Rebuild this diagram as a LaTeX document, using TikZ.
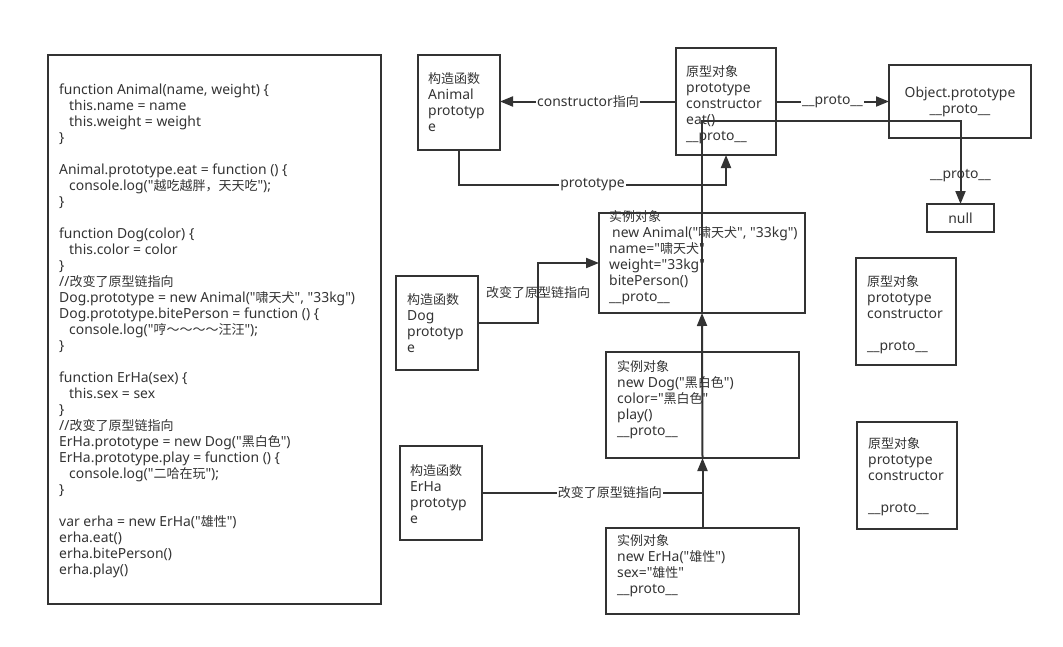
\documentclass[tikz,border=0pt]{standalone}
\usepackage{fontspec}
\setmainfont{Noto Sans}[Ligatures=TeXOff, Scale=1.07]
\newfontfamily\cjk{Noto Sans CJK SC}
\newcommand\zh[1]{{\cjk #1}}
\usetikzlibrary{arrows.meta}
\definecolor{ink}{HTML}{333333}
\begin{document}
\begin{tikzpicture}[x=1pt,y=-1pt,
  box/.style={draw=ink, line width=2pt, inner sep=0pt, outer sep=0pt, anchor=north west, text=ink, font=\fontsize{13}{16}\selectfont},
  txt/.style={anchor=north west, align=left, inner sep=0pt, text=ink, font=\fontsize{13}{16}\selectfont, execute at begin node={\rule{0pt}{12.5pt}}},
  conn/.style={draw=ink, line width=2pt},
  arr/.style={conn, -{Triangle[length=13pt,width=10pt]}},
  lbl/.style={text=ink, font=\fontsize{13}{16}\selectfont, inner sep=1pt},
  lblw/.style={lbl, fill=white}]
\useasboundingbox (0,0) rectangle (1063,646);

% boxes
\node[box, minimum width=333, minimum height=549] (code) at (48,55) {};
\node[box, minimum width=82, minimum height=95] (actA) at (418,55) {};
\node[box, minimum width=100, minimum height=107] (protoA) at (676,48) {};
\node[box, minimum width=142, minimum height=73, align=center] (objP) at (889,65) {Object.prototype\\\_\_proto\_\_};
\node[box, minimum width=67, minimum height=28] (null) at (927,204) {null};
\node[box, minimum width=82, minimum height=94] (dogC) at (396,276) {};
\node[box, minimum width=206, minimum height=100] (animI) at (599,213) {};
\node[box, minimum width=100, minimum height=107] (protoB) at (856,258) {};
\node[box, minimum width=100, minimum height=107] (protoC) at (857,422) {};
\node[box, minimum width=193, minimum height=106] (dogI) at (606,352) {};
\node[box, minimum width=82, minimum height=94] (erC) at (400,446) {};
\node[box, minimum width=193, minimum height=86] (erI) at (606,528) {};

% texts
\node[txt] (codeT) at (59,84) {function Animal(name, weight) \{\\
\hspace*{10pt}this.name = name\\
\hspace*{10pt}this.weight = weight\\
\}\\
\mbox{}\\
Animal.prototype.eat = function () \{\\
\hspace*{10pt}console.log("\zh{越吃越胖，天天吃}");\\
\}\\
\mbox{}\\
function Dog(color) \{\\
\hspace*{10pt}this.color = color\\
\}\\
//\zh{改变了原型链指向}\\
Dog.prototype = new Animal("\zh{啸天犬}", "33kg")\\
Dog.prototype.bitePerson = function () \{\\
\hspace*{10pt}console.log("\zh{哼～～～～汪汪}");\\
\}\\
\mbox{}\\
function ErHa(sex) \{\\
\hspace*{10pt}this.sex = sex\\
\}\\
//\zh{改变了原型链指向}\\
ErHa.prototype = new Dog("\zh{黑白色}")\\
ErHa.prototype.play = function () \{\\
\hspace*{10pt}console.log("\zh{二哈在玩}");\\
\}\\
\mbox{}\\
var erha = new ErHa("\zh{雄性}")\\
erha.eat()\\
erha.bitePerson()\\
erha.play()};

\node[txt] (actAT) at (428,72.5) {\zh{构造函数}\\Animal\\prototyp\\e};
\node[txt] (protoAT) at (686,65.5) {\zh{原型对象}\\prototype\\constructor\\eat()\\\_\_proto\_\_};
\node[txt] (dogCT) at (407,293.5) {\zh{构造函数}\\Dog\\prototyp\\e};
\node[txt] (animIT) at (609,210.5) {\zh{实例对象}\\\hspace*{3pt}new Animal("\zh{啸天犬}", "33kg")\\name="\zh{啸天犬}"\\weight="33kg"\\bitePerson()\\\_\_proto\_\_};
\node[txt] (protoBT) at (867,275.5) {\zh{原型对象}\\prototype\\constructor\\\mbox{}\\\_\_proto\_\_};
\node[txt] (protoCT) at (868,437.5) {\zh{原型对象}\\prototype\\constructor\\\mbox{}\\\_\_proto\_\_};
\node[txt] (dogIT) at (617,360.5) {\zh{实例对象}\\new Dog("\zh{黑白色}")\\color="\zh{黑白色}"\\play()\\\_\_proto\_\_};
\node[txt] (erCT) at (410,464.5) {\zh{构造函数}\\ErHa\\prototyp\\e};
\node[txt] (erIT) at (617,534.5) {\zh{实例对象}\\new ErHa("\zh{雄性}")\\sex="\zh{雄性}"\\\_\_proto\_\_};

% connectors
\draw[arr] (protoA.west) -- node[lblw]{constructor\zh{指向}} (protoA.west -| actA.east);
\draw[arr] (actA.south) |- node[lblw, pos=0.75]{prototype} (protoA.south |- 0,185) -- (protoA.south);
\draw[arr] (protoA.east) -- node[lblw]{\_\_proto\_\_} (protoA.east -| objP.west);
\draw[arr] (animI.south) -- (animI.south |- 0,121) -| node[lbl, pos=0.83]{\_\_proto\_\_} (null.north);
\draw[arr] (dogI.south) -- (animI.south);
\draw[arr] (erI.north) -- (dogI.south);
\draw[conn] (erC.east) -- node[lblw, pos=0.58]{\zh{改变了原型链指向}} (erC.east -| dogI.south);
\draw[arr] (dogC.east) -- (538,323) |- node[lbl, pos=0.25]{\zh{改变了原型链指向}} (animI.west);
\end{tikzpicture}
\end{document}
